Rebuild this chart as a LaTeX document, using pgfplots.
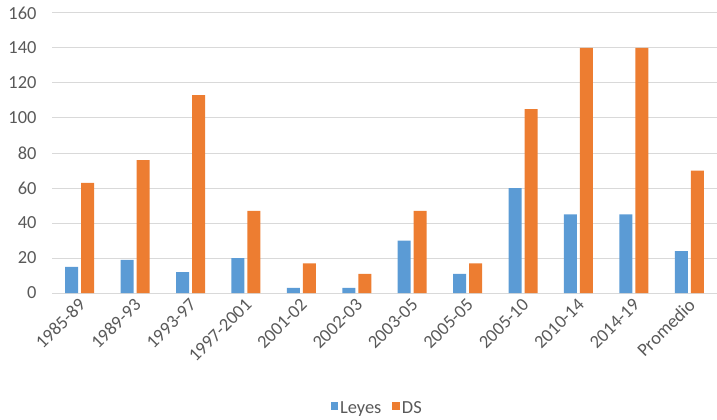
\documentclass[border=0pt]{standalone}
\usepackage{fontspec}
\setmainfont{Carlito}
\usepackage{pgfplots}
\pgfplotsset{compat=1.18}

\definecolor{leyes}{HTML}{5B9BD5}
\definecolor{ds}{HTML}{ED7D31}
\definecolor{txt}{HTML}{595959}
\definecolor{gridc}{HTML}{D9D9D9}

\begin{document}
\begin{tikzpicture}
\begin{axis}[
    name=ax,
    scale only axis,
    width=665bp, height=280bp,
    ybar=3bp,
    bar width=13bp,
    ymin=0, ymax=160,
    ytick={0,20,...,160},
    xmin=-0.5, xmax=11.5,
    xtick=data,
    xticklabels={1985-89,1989-93,1993-97,1997-2001,2001-02,2002-03,2003-05,2005-05,2005-10,2010-14,2014-19,Promedio},
    x tick label style={rotate=45, anchor=east, font=\fontsize{18.5}{22}\selectfont, text=txt, yshift=-5bp, xshift=2bp},
    y tick label style={font=\fontsize{18.5}{22}\selectfont, text=txt, xshift=-12bp},
    /pgf/number format/assume math mode=true,
    ymajorgrids,
    grid style={gridc, line width=1bp},
    axis line style={draw=none},
    major tick style={draw=none},
    legend style={at={(0.489,-0.412)}, anchor=center, draw=none,
        font=\fontsize{18.5}{22}\selectfont, text=txt,
        legend columns=2, column sep=0bp,
        nodes={inner xsep=2bp},
        /tikz/every even column/.append style={column sep=9bp}},
    legend image code/.code={\fill[#1] (0bp,-2bp) rectangle (7.5bp,6bp);},
]
\addplot[fill=leyes, draw=none] coordinates {
    (0,15) (1,19) (2,12) (3,20) (4,3) (5,3)
    (6,30) (7,11) (8,60) (9,45) (10,45) (11,24)};
\addplot[fill=ds, draw=none] coordinates {
    (0,63) (1,76) (2,113) (3,47) (4,17) (5,11)
    (6,47) (7,17) (8,105) (9,140) (10,140) (11,70)};
\legend{Leyes, DS}
\end{axis}
\pgfresetboundingbox
\path ([xshift=-52bp,yshift=-127bp]ax.south west) rectangle ([yshift=13bp]ax.north east);
\end{tikzpicture}
\end{document}
